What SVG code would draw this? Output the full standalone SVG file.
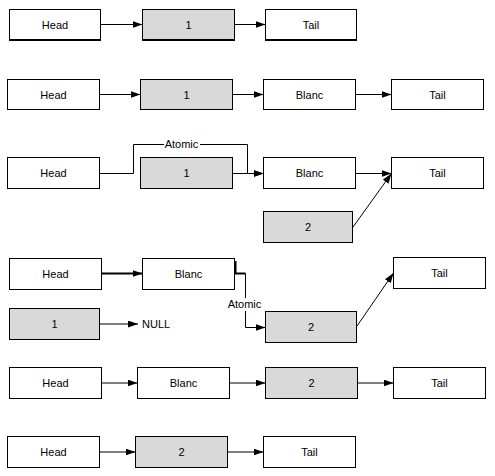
<svg xmlns="http://www.w3.org/2000/svg" width="495" height="476" viewBox="0 0 495 476">
<defs>
<marker id="arr" markerUnits="userSpaceOnUse" markerWidth="10" markerHeight="7" refX="10" refY="3.5" orient="auto">
<path d="M0,0 L10,3.5 L0,7 z" fill="#000"/>
</marker>
<style>
.box{fill:#fff;stroke:#000;stroke-width:1}
.g{fill:#d9d9d9;stroke:#000;stroke-width:1}
text{font-family:"Liberation Sans",Arial,sans-serif;font-size:11px;fill:#000;text-anchor:middle}
.e{fill:none;stroke:#000;stroke-width:1}
.a{marker-end:url(#arr)}
.t{stroke-width:2}
.lbl{fill:#fff;stroke:none}
</style>
</defs>
<rect width="495" height="476" fill="#fff"/>

<!-- Row 1 -->
<g id="r1-head"><rect class="box" x="9.5" y="9.5" width="91" height="30"/><line x1="9" y1="40.5" x2="101" y2="40.5" stroke="#000"/><text x="55" y="28.5">Head</text></g>
<g id="r1-n1"><rect class="g" x="142.5" y="9.5" width="92" height="30"/><line x1="142" y1="40.5" x2="235" y2="40.5" stroke="#000"/><text x="188.5" y="28.5">1</text></g>
<g id="r1-tail"><rect class="box" x="265.5" y="9.5" width="91" height="30"/><line x1="265" y1="40.5" x2="357" y2="40.5" stroke="#000"/><text x="311" y="28.5">Tail</text></g>

<!-- Row 2 -->
<g id="r2-head"><rect class="box" x="7.5" y="79.5" width="92" height="30"/><text x="53.5" y="98.5">Head</text></g>
<g id="r2-n1"><rect class="g" x="140.5" y="79.5" width="92" height="30"/><text x="186.5" y="98.5">1</text></g>
<g id="r2-blanc"><rect class="box" x="263.5" y="79.5" width="92" height="30"/><text x="309.5" y="98.5">Blanc</text></g>
<g id="r2-tail"><rect class="box" x="391.5" y="79.5" width="92" height="30"/><text x="437.5" y="98.5">Tail</text></g>

<!-- Row 3 -->
<g id="r3-head"><rect class="box" x="7.5" y="157.5" width="92" height="31"/><text x="53.5" y="177">Head</text></g>
<g id="r3-n1"><rect class="g" x="140.5" y="157.5" width="92" height="31"/><text x="186.5" y="177">1</text></g>
<g id="r3-blanc"><rect class="box" x="263.5" y="157.5" width="92" height="31"/><text x="309.5" y="177">Blanc</text></g>
<g id="r3-tail"><rect class="box" x="391.5" y="157.5" width="92" height="31"/><text x="437.5" y="177">Tail</text></g>
<g id="r3-n2"><rect class="g" x="263.5" y="211.5" width="89" height="31"/><text x="308" y="231">2</text></g>

<!-- Row 4 -->
<g id="r4-head"><rect class="box" x="9.5" y="258.5" width="92" height="31"/><text x="55.5" y="278">Head</text></g>
<g id="r4-blanc"><rect class="box" x="142.5" y="258.5" width="92" height="31"/><text x="188.5" y="278">Blanc</text></g>
<g id="r4-tail"><rect class="box" x="393.5" y="257.5" width="92" height="31"/><text x="439.5" y="277">Tail</text></g>
<g id="r4-n1"><rect class="g" x="9.5" y="308.5" width="90" height="31"/><text x="54.5" y="328">1</text></g>
<g id="r4-null"><text x="142" y="328" style="text-anchor:start">NULL</text></g>
<g id="r4-n2"><rect class="g" x="265.5" y="311.5" width="91" height="31"/><text x="311" y="331">2</text></g>

<!-- Row 5 -->
<g id="r5-head"><rect class="box" x="9.5" y="367.5" width="92" height="31"/><text x="55.5" y="387">Head</text></g>
<g id="r5-blanc"><rect class="box" x="137.5" y="367.5" width="92" height="31"/><text x="183.5" y="387">Blanc</text></g>
<g id="r5-n2"><rect class="g" x="265.5" y="367.5" width="92" height="31"/><text x="311.5" y="387">2</text></g>
<g id="r5-tail"><rect class="box" x="393.5" y="367.5" width="92" height="31"/><text x="439.5" y="387">Tail</text></g>

<!-- Row 6 -->
<g id="r6-head"><rect class="box" x="7.5" y="436.5" width="92" height="31"/><text x="53.5" y="456">Head</text></g>
<g id="r6-n2"><rect class="g" x="135.5" y="436.5" width="92" height="31"/><text x="181.5" y="456">2</text></g>
<g id="r6-tail"><rect class="box" x="263.5" y="436.5" width="92" height="31"/><text x="309.5" y="456">Tail</text></g>

<g id="connectors">
<!-- row 1 -->
<path class="e a" d="M101,24.5 H142.5"/>
<path class="e a" d="M235,24.5 H265.5"/>
<!-- row 2 -->
<path class="e a" d="M100,94.5 H140.5"/>
<path class="e a" d="M233,94.5 H263.5"/>
<path class="e a" d="M356,94.5 H391.5"/>
<!-- row 3 -->
<path class="e a" d="M100,173.5 H133.5 V144.5 H247.5 V173.5 H263.5"/>
<rect class="lbl" x="164" y="138" width="36" height="13"/>
<text x="181.5" y="148">Atomic</text>
<path class="e a" d="M233,173.5 H263.5"/>
<path class="e a" d="M356,173.5 H391.5"/>
<path class="e a" d="M353,227 L391.5,173.5"/>
<!-- row 4 -->
<path class="e t a" d="M102,273.5 H142.5"/>
<path class="e t" d="M235.5,261 V273.5 H245.5"/>
<path class="e a" d="M245.5,273.5 V327.5 H265.5"/>
<rect class="lbl" x="227" y="298" width="36" height="13"/>
<text x="244.5" y="308">Atomic</text>
<path class="e a" d="M100,324 H138"/>
<path class="e a" d="M357,326 L393.5,273"/>
<!-- row 5 -->
<path class="e a" d="M102,383 H137.5"/>
<path class="e a" d="M230,383 H265.5"/>
<path class="e a" d="M358,383 H393.5"/>
<!-- row 6 -->
<path class="e a" d="M100,452 H135.5"/>
<path class="e a" d="M228,452 H263.5"/>
</g>
</svg>
